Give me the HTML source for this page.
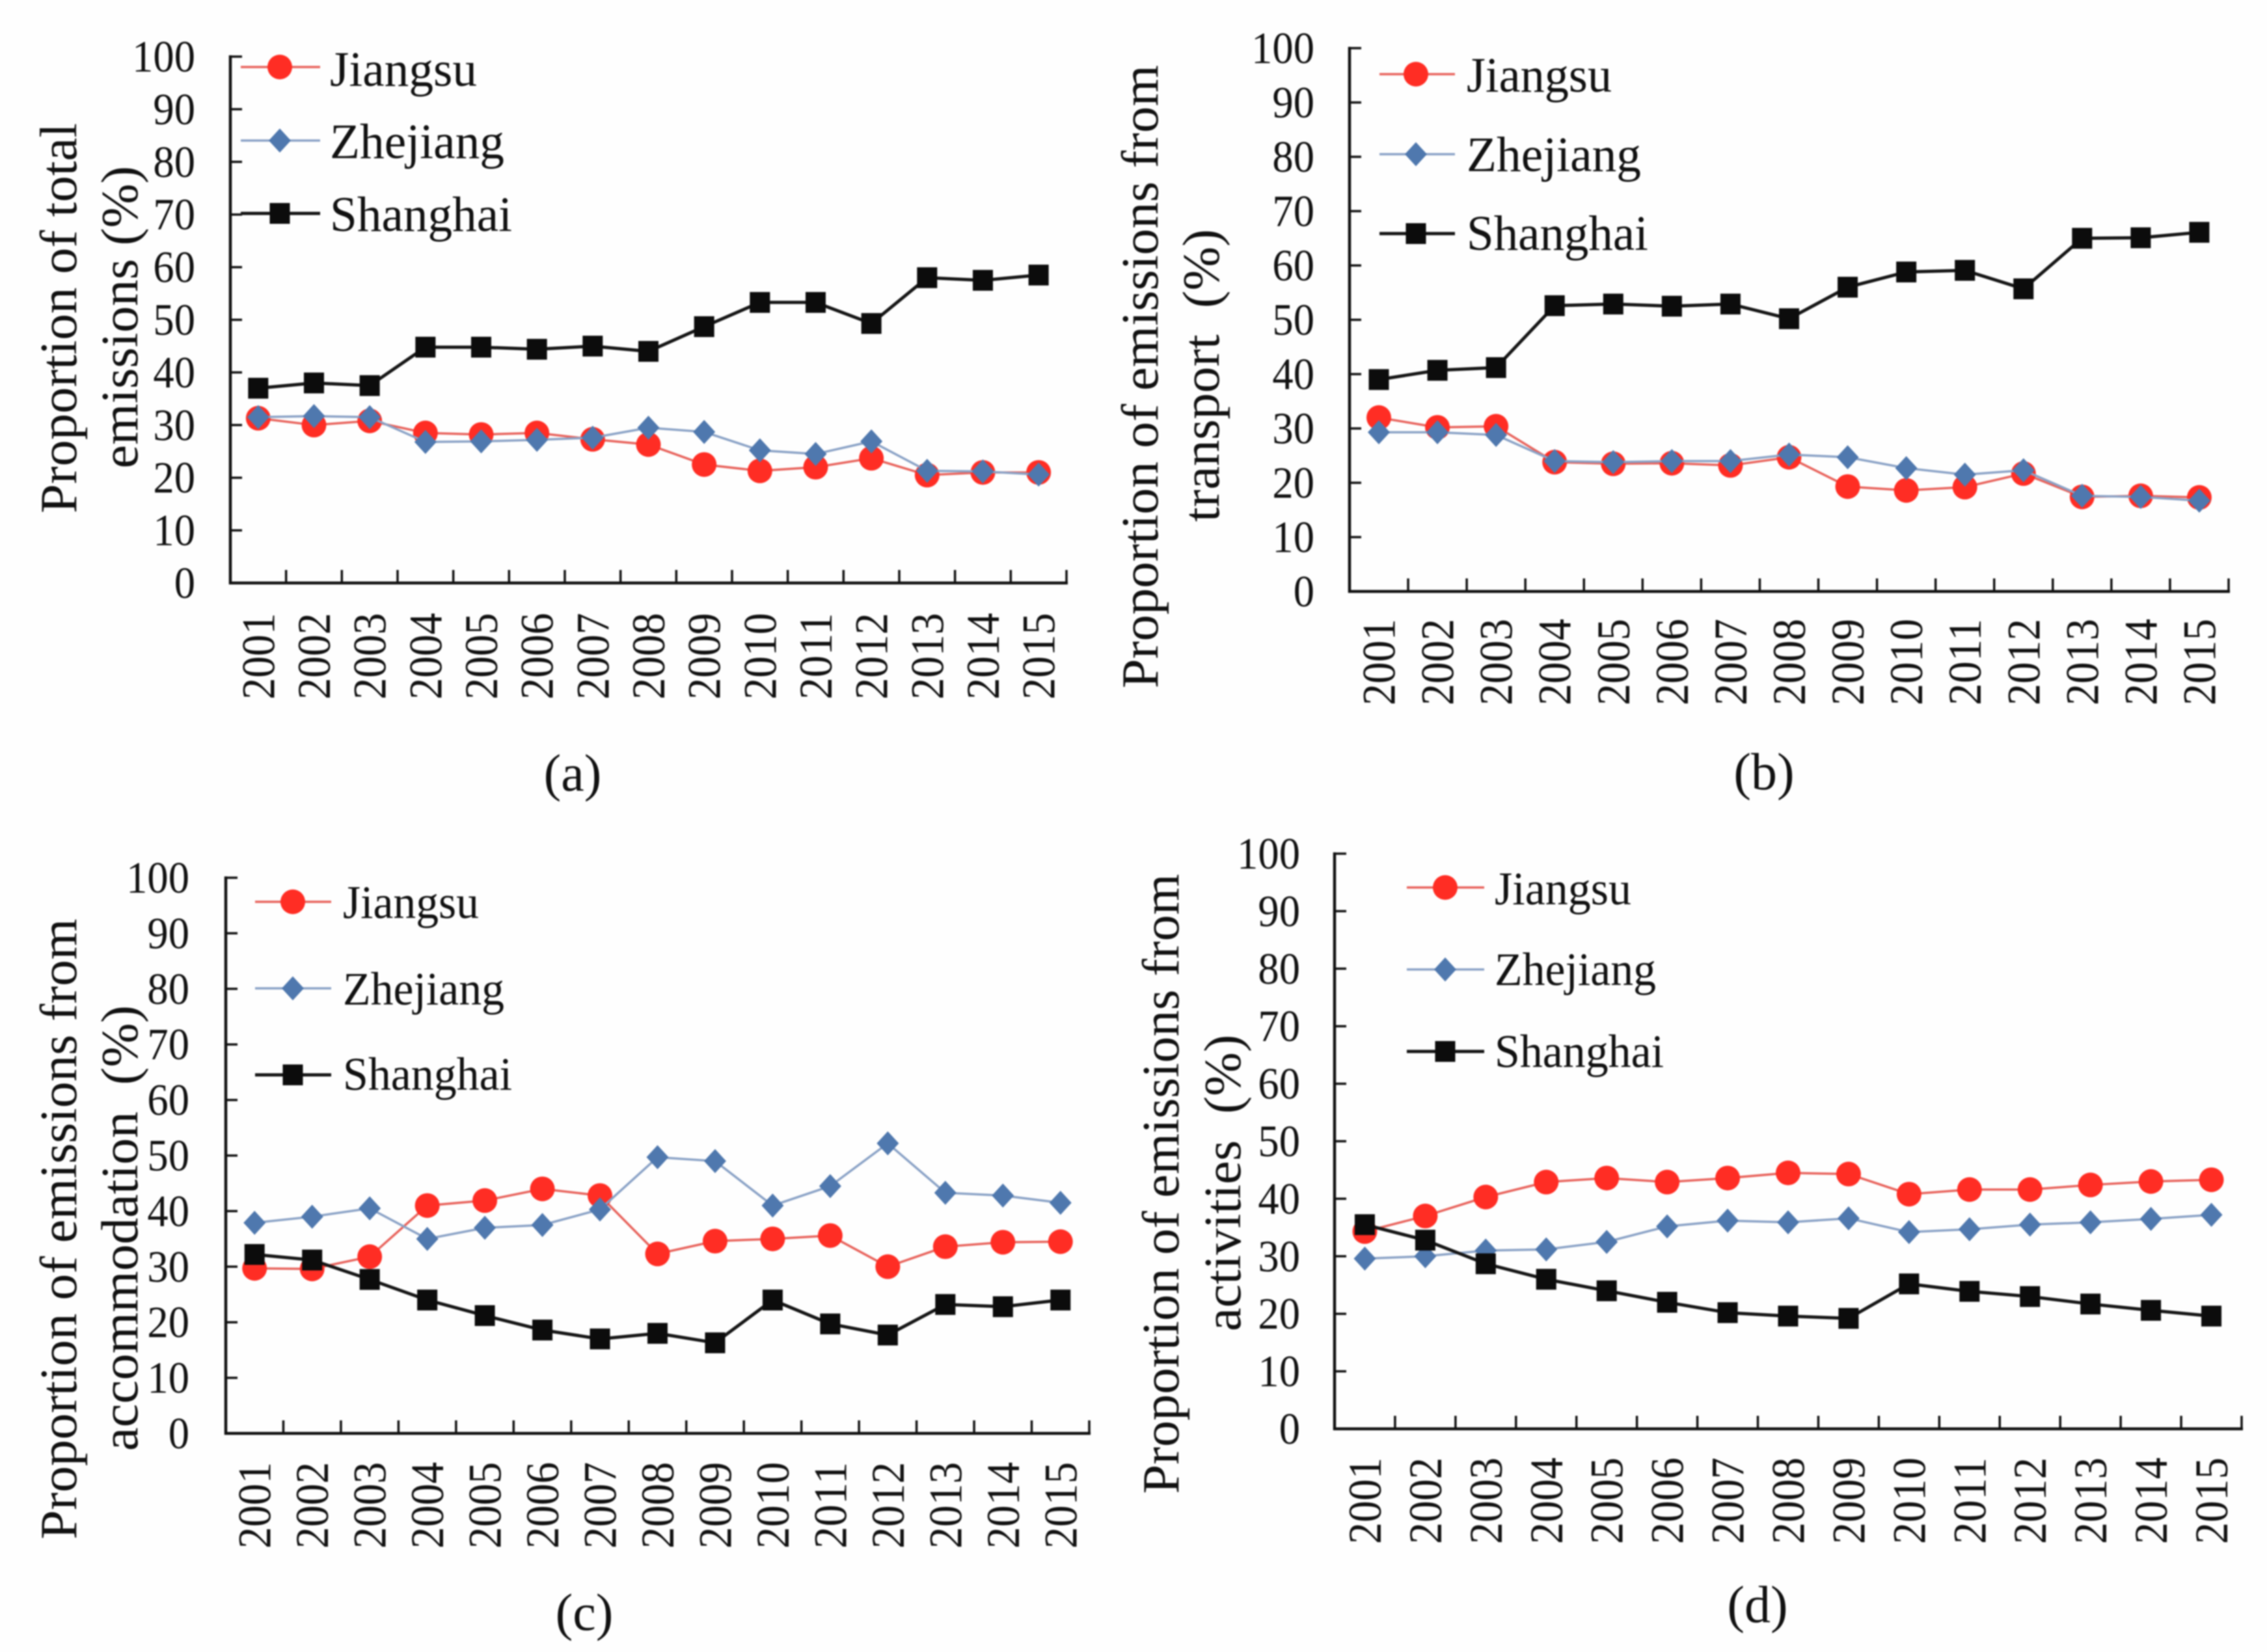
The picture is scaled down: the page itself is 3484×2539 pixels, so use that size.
<!DOCTYPE html>
<html lang="en">
<head>
<meta charset="utf-8">
<title>Proportion of emissions by province, 2001-2015</title>
<style>
html,body{margin:0;padding:0;background:#fefefe;}
#chart{display:block;width:3484px;height:2539px;filter:blur(1px);}
text{font-family:"Liberation Serif","Times New Roman",serif;fill:#111;}
</style>
</head>
<body>
<svg id="chart" xmlns="http://www.w3.org/2000/svg" width="3484" height="2539" viewBox="0 0 3484 2539">
<rect width="3484" height="2539" fill="#fefefe"/>

<g id="panel-a">
<text transform="translate(117,789) rotate(-90)" font-size="80" textLength="600" lengthAdjust="spacingAndGlyphs">Proportion of total</text>
<text transform="translate(211,720) rotate(-90)" font-size="80" textLength="465" lengthAdjust="spacingAndGlyphs">emissions (%)</text>
<text x="880" y="1215" font-size="80" text-anchor="middle">(a)</text>
</g>

<g id="panel-b">
<text transform="translate(1779,1058) rotate(-90)" font-size="80" textLength="958" lengthAdjust="spacingAndGlyphs">Proportion of emissions from</text>
<text transform="translate(1873,802) rotate(-90)" font-size="80" textLength="450" lengthAdjust="spacingAndGlyphs" xml:space="preserve">transport  (%)</text>
<text x="2711" y="1213" font-size="80" text-anchor="middle">(b)</text>
</g>

<g id="panel-c">
<text transform="translate(117,2366) rotate(-90)" font-size="80" textLength="954" lengthAdjust="spacingAndGlyphs">Proportion of emissions from</text>
<text transform="translate(211,2230) rotate(-90)" font-size="80" textLength="685" lengthAdjust="spacingAndGlyphs" xml:space="preserve">accommodation  (%)</text>
<text x="898" y="2505" font-size="80" text-anchor="middle">(c)</text>
</g>

<g id="panel-d">
<text transform="translate(1811,2296) rotate(-90)" font-size="80" textLength="953" lengthAdjust="spacingAndGlyphs">Proportion of emissions from</text>
<text transform="translate(1906,2046) rotate(-90)" font-size="80" textLength="456" lengthAdjust="spacingAndGlyphs" xml:space="preserve">activities  (%)</text>
<text x="2701" y="2493" font-size="80" text-anchor="middle">(d)</text>
</g>
</svg>

<script>
// ---- chart data ----
const years = ['2001','2002','2003','2004','2005','2006','2007','2008','2009','2010','2011','2012','2013','2014','2015'];
const yTickValues = [0,10,20,30,40,50,60,70,80,90,100];
const seriesNames = ['Jiangsu','Zhejiang','Shanghai'];

const jiangsuA = [31.3,30,30.8,28.5,28.2,28.5,27.3,26.3,22.5,21.3,22,23.7,20.5,21,21];
const zhejiangA = [31.5,31.7,31.5,26.8,26.9,27.2,27.6,29.5,28.7,25.2,24.5,26.9,21.3,21.2,20.6];
const shanghaiA = [37,38,37.5,44.8,44.8,44.4,45,44,48.7,53.3,53.3,49.3,58,57.5,58.5];

const jiangsuB = [32,30.2,30.4,23.8,23.5,23.6,23.2,24.7,19.3,18.6,19.2,21.7,17.4,17.6,17.3];
const zhejiangB = [29.3,29.3,28.8,24,23.8,24,24,25.2,24.7,22.7,21.5,22.3,17.6,17.4,16.7];
const shanghaiB = [39,40.7,41.2,52.6,52.9,52.5,52.9,50.2,56,58.8,59.1,55.7,65,65.1,66.1];

const jiangsuC = [29.7,29.6,31.8,41,41.9,44,42.8,32.3,34.6,35,35.6,30,33.6,34.4,34.5];
const zhejiangC = [37.9,39,40.5,35,37,37.5,40.3,49.7,49,41,44.5,52.2,43.3,42.8,41.5];
const shanghaiC = [32.2,31.2,27.7,24,21.2,18.6,17,18,16.3,24,19.7,17.7,23.2,22.8,24];

const jiangsuD = [34.3,37,40.3,42.9,43.6,42.9,43.6,44.5,44.3,40.8,41.6,41.6,42.4,43,43.3];
const zhejiangD = [29.6,30,31,31.2,32.5,35.2,36.2,35.9,36.6,34.2,34.7,35.5,35.9,36.5,37.2];
const shanghaiD = [35.5,32.8,28.7,26,24,22,20.2,19.6,19.2,25.2,23.9,23,21.7,20.6,19.6];

// ---- layout ----
const SVGNS = 'http://www.w3.org/2000/svg';
const styleRed = {line:'#e8635c', width:3.5, fill:'#ff2d24'};
const styleBlue = {line:'#8aa2c6', width:3.5, fill:'#4f78ae'};
const styleBlack = {line:'#161616', width:5, fill:'#0c0c0c'};
const seriesStyles = [styleRed, styleBlue, styleBlack];
const seriesKinds = ['circle','diamond','square'];

const panels = [
  {id:'panel-a', x0:354, x1:1639, yBase:896, yTop:87, series:[jiangsuA,zhejiangA,shanghaiA], labelRight:300, xLabelBottom:1075,
   legend:{lineL:370,lineR:492,marker:430,rows:[103,216,328],textX:507,base:[132,243,355],widths:[226,268,280],size:76}},
  {id:'panel-b', x0:2074, x1:3425, yBase:909, yTop:74, series:[jiangsuB,zhejiangB,shanghaiB], labelRight:2020, xLabelBottom:1084,
   legend:{lineL:2120,lineR:2236,marker:2176,rows:[114,237,359],textX:2254,base:[141,263,384],widths:[223,268,279],size:76}},
  {id:'panel-c', x0:347, x1:1674, yBase:2203, yTop:1349, series:[jiangsuC,zhejiangC,shanghaiC], labelRight:291, xLabelBottom:2380,
   legend:{lineL:392,lineR:509,marker:450,rows:[1386,1519,1652],textX:527,base:[1411,1544,1675],widths:[209,248,260],size:72}},
  {id:'panel-d', x0:2051, x1:3445, yBase:2196, yTop:1312, series:[jiangsuD,zhejiangD,shanghaiD], labelRight:1998, xLabelBottom:2373,
   legend:{lineL:2162,lineR:2281,marker:2221,rows:[1364,1490,1616],textX:2297,base:[1390,1514,1640],widths:[210,248,260],size:72}}
];

function el(tag, parent){
  const n = document.createElementNS(SVGNS, tag);
  parent.appendChild(n);
  return n;
}
function seg(parent, x1, y1, x2, y2, color, w){
  const l = el('line', parent);
  l.setAttribute('x1', x1); l.setAttribute('y1', y1);
  l.setAttribute('x2', x2); l.setAttribute('y2', y2);
  l.setAttribute('stroke', color); l.setAttribute('stroke-width', w);
  return l;
}
function marker(parent, kind, cx, cy, fill){
  let m;
  if(kind === 'circle'){
    m = el('ellipse', parent);
    m.setAttribute('cx', cx); m.setAttribute('cy', cy);
    m.setAttribute('rx', 19); m.setAttribute('ry', 19);
  } else if(kind === 'diamond'){
    m = el('polygon', parent);
    m.setAttribute('points', [[cx,cy-18.5],[cx+17,cy],[cx,cy+18.5],[cx-17,cy]].map(p=>p.join(',')).join(' '));
  } else {
    m = el('rect', parent);
    m.setAttribute('x', cx-15.5); m.setAttribute('y', cy-16);
    m.setAttribute('width', 31); m.setAttribute('height', 32);
  }
  m.setAttribute('fill', fill);
  return m;
}

panels.forEach(function(p){
  const root = document.getElementById(p.id);
  const step = (p.x1 - p.x0) / years.length;
  const xAt = i => p.x0 + step * (i + 0.5);
  const yAt = v => p.yBase - (p.yBase - p.yTop) * v / 100;

  // axes
  const axes = el('g', root);
  
  
  const yAxis = seg(axes, p.x0, p.yTop - 2, p.x0, p.yBase + 2, '#111', 4.5);
  
  
  const xAxis = seg(axes, p.x0 - 2, p.yBase, p.x1 + 2, p.yBase, '#111', 4.5);
  
  

  yTickValues.forEach(function(v){
    const y = yAt(v);
    const t = seg(axes, p.x0, y, p.x0 + 18, y, '#111', 3.5);
    
    
    const label = el('text', axes);
    
    
    label.setAttribute('x', p.labelRight);
    label.setAttribute('y', y + 23);
    label.setAttribute('font-size', 69);
    label.setAttribute('text-anchor', 'end');
    label.setAttribute('textLength', String(v).length * 32.3);
    label.setAttribute('lengthAdjust', 'spacingAndGlyphs');
    label.textContent = v;
  });

  for(let k = 1; k <= years.length; k++){
    const x = p.x0 + step * k;
    const t = seg(axes, x, p.yBase, x, p.yBase - 20, '#111', 3.5);
    
    
  }
  years.forEach(function(yr, i){
    const label = el('text', axes);
    
    
    label.setAttribute('transform', 'translate(' + (xAt(i) + 24.5) + ',' + p.xLabelBottom + ') rotate(-90)');
    label.setAttribute('font-size', 72);
    label.setAttribute('textLength', 133);
    label.setAttribute('lengthAdjust', 'spacingAndGlyphs');
    label.textContent = yr;
  });

  // series
  p.series.forEach(function(values, s){
    const st = seriesStyles[s];
    const g = el('g', root);
    
    
    const line = el('polyline', g);
    
    
    line.setAttribute('fill', 'none');
    line.setAttribute('stroke', st.line);
    line.setAttribute('stroke-width', st.width);
    line.setAttribute('points', values.map((v, i) => xAt(i) + ',' + yAt(v)).join(' '));
    values.forEach(function(v, i){
      const m = marker(g, seriesKinds[s], xAt(i), yAt(v), st.fill);
      
      
    });
  });

  // legend
  const lg = el('g', root);
  
  
  seriesNames.forEach(function(name, s){
    const st = seriesStyles[s];
    const L = p.legend;
    const entry = el('g', lg);
    
    
    seg(entry, L.lineL, L.rows[s], L.lineR, L.rows[s], st.line, st.width);
    marker(entry, seriesKinds[s], L.marker, L.rows[s], st.fill);
    const t = el('text', entry);
    
    
    t.setAttribute('x', L.textX);
    t.setAttribute('y', L.base[s]);
    t.setAttribute('font-size', L.size);
    t.setAttribute('textLength', L.widths[s]);
    t.setAttribute('lengthAdjust', 'spacingAndGlyphs');
    t.textContent = name;
  });
});
</script>
</body>
</html>
